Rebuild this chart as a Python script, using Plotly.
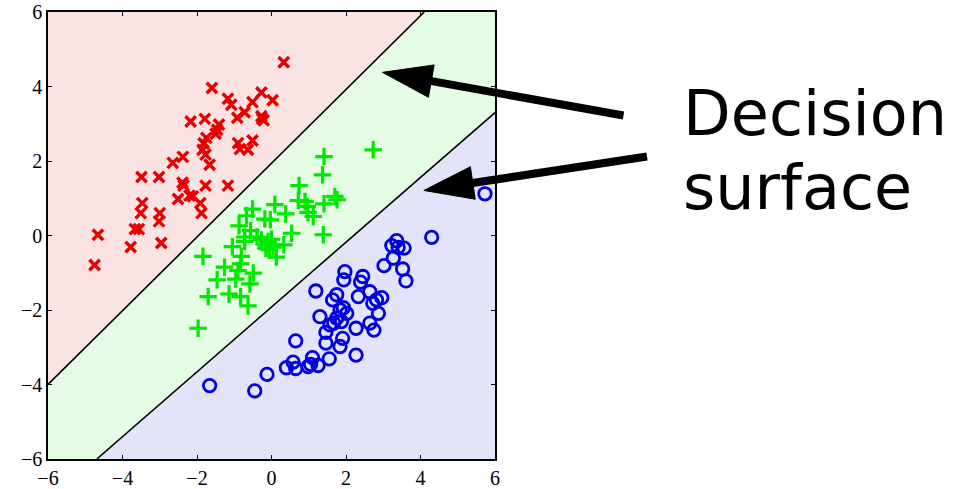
import numpy as np
import plotly.graph_objects as go

# ---- sample points for the three classes ----
red_x = [0.33, -1.60, -1.17, -1.08, -0.27, 0.03, -0.51, -0.72, -0.92, -0.27, -0.21, -0.25,
         -2.17, -1.79, -1.41, -1.46, -1.50, -1.75, -1.82, -1.85, -1.77, -1.66, -0.90, -0.85,
         -0.63, -0.51, -2.38, -2.65, -3.49, -3.02, -2.39, -2.36, -1.77, -1.17, -2.51, -2.20,
         -2.11, -1.91, -1.88, -3.47, -3.51, -3.00, -3.02, -3.67, -3.56, -4.66, -3.78, -2.96,
         -4.75]
red_y = [4.65, 3.96, 3.67, 3.51, 3.84, 3.63, 3.58, 3.31, 3.16, 3.20, 3.09, 3.13,
         3.06, 3.13, 2.98, 2.84, 2.73, 2.62, 2.47, 2.30, 2.17, 1.90, 2.48, 2.32,
         2.30, 2.55, 2.11, 1.95, 1.57, 1.57, 1.42, 1.34, 1.34, 1.34, 0.98, 1.07,
         1.05, 0.87, 0.60, 0.87, 0.60, 0.60, 0.38, 0.17, 0.17, 0.02, -0.31, -0.20,
         -0.79]

green_x = [1.41, 1.37, 0.74, 0.72, 0.90, 0.96, 0.98, 1.12, 1.41, 1.70, 1.76, 1.39,
           0.09, 0.38, -0.18, -0.03, -0.51, -0.67, -0.87, -0.56, -0.39, -0.72, -1.05, -0.27,
           -0.12, -0.06, 0.00, 0.13, 0.33, 0.54, -0.15, -1.84, -0.81, -0.83, -1.26, -0.90,
           -0.49, -1.46, -0.96, -0.58, -1.70, -1.14, -0.83, -0.63, -1.97, -0.09, 0.04, -0.72,
           2.73]
green_y = [2.12, 1.63, 1.34, 0.94, 0.91, 0.78, 0.62, 0.51, 0.85, 1.05, 0.96, 0.02,
           0.83, 0.58, 0.44, 0.42, 0.71, 0.53, 0.26, 0.13, -0.04, -0.16, -0.30, -0.12,
           -0.25, -0.38, -0.10, -0.58, -0.25, 0.06, -0.34, -0.56, -0.56, -0.76, -0.85, -0.94,
           -1.01, -1.19, -1.17, -1.30, -1.64, -1.57, -1.64, -1.89, -2.49, -0.16, -0.31, -0.04,
           2.30]

blue_x = [4.30, 3.36, 3.23, 3.40, 3.56, 3.27, 3.02, 3.52, 3.61, 1.97, 1.94, 2.45,
          2.39, 1.19, 2.64, 2.33, 2.96, 2.82, 2.72, 1.75, 1.64, 1.93, 2.02, 2.87,
          1.30, 1.75, 1.88, 1.67, 2.64, 2.27, 2.75, 1.57, 1.46, 1.91, 0.65, 1.46,
          1.84, 2.27, 1.55, 1.10, 1.05, 1.25, 0.58, 0.40, 0.65, 0.98, -0.12, -1.66,
          -0.45, 5.73, 1.84]
blue_y = [-0.05, -0.14, -0.27, -0.32, -0.34, -0.61, -0.81, -0.90, -1.22, -0.97, -1.19, -1.10,
          -1.25, -1.49, -1.51, -1.64, -1.67, -1.73, -1.82, -1.59, -1.73, -1.94, -2.09, -2.09,
          -2.18, -2.22, -2.31, -2.35, -2.35, -2.49, -2.54, -2.40, -2.60, -2.76, -2.83, -2.89,
          -2.98, -3.21, -3.31, -3.28, -3.46, -3.49, -3.40, -3.55, -3.57, -3.52, -3.73, -4.03,
          -4.17, 1.12, -2.00]

# ---- linear decision boundaries: y = slope * x + intercept ----
upper_slope, upper_icpt = 0.99, 1.94
lower_slope, lower_icpt = 0.87, -1.92

lim = 6.0
tick_vals = [-6, -4, -2, 0, 2, 4, 6]

RED = "rgb(232,0,0)"
GREEN = "rgb(0,232,0)"
BLUE = "rgb(0,0,225)"

# boundary end points clipped to the square [-6, 6] x [-6, 6]
u_x0, u_y0 = -lim, upper_slope * -lim + upper_icpt
u_x1, u_y1 = (lim - upper_icpt) / upper_slope, lim
l_x0, l_y0 = (-lim - lower_icpt) / lower_slope, -lim
l_x1, l_y1 = lim, lower_slope * lim + lower_icpt

fig = go.Figure()

# class regions
regions = [
    ([-lim, u_x1, -lim], [u_y0, lim, lim], "rgb(252,227,227)"),
    ([-lim, l_x0, l_x1, lim, u_x1, -lim], [-lim, -lim, l_y1, lim, lim, u_y0], "rgb(227,252,227)"),
    ([l_x0, lim, lim], [-lim, -lim, l_y1], "rgb(227,227,250)"),
]
for rx, ry, col in regions:
    fig.add_trace(go.Scatter(x=rx, y=ry, fill="toself", fillcolor=col, mode="none",
                             hoverinfo="skip", showlegend=False))

# boundary lines
for bx, by in [([u_x0, u_x1], [u_y0, u_y1]), ([l_x0, l_x1], [l_y0, l_y1])]:
    fig.add_trace(go.Scatter(x=bx, y=by, mode="lines", line=dict(color="black", width=1.6),
                             hoverinfo="skip", showlegend=False))

# data points
fig.add_trace(go.Scatter(x=red_x, y=red_y, mode="markers", showlegend=False,
                         marker=dict(symbol="x-thin", size=10.5, color=RED,
                                     line=dict(color=RED, width=3.4))))
fig.add_trace(go.Scatter(x=green_x, y=green_y, mode="markers", showlegend=False,
                         marker=dict(symbol="cross-thin", size=12.5, color=GREEN,
                                     line=dict(color=GREEN, width=3.2))))
fig.add_trace(go.Scatter(x=blue_x, y=blue_y, mode="markers", showlegend=False,
                         marker=dict(symbol="circle-open", size=12.5, color=BLUE,
                                     line=dict(color=BLUE, width=2.8))))

# ---- pointer arrows (data units, drawn in paper space so they can leave the axes) ----
arrows = [
    ((9.45, 3.22), (2.98, 4.38)),
    ((10.08, 2.12), (4.09, 1.21)),
]


def to_paper(x, y):
    return (x + lim) / (2 * lim), (y + lim) / (2 * lim)


shaft_w = 8
head_len = 1.33
head_half = 0.44
for (tx, ty), (hx, hy) in arrows:
    d = np.array([hx - tx, hy - ty])
    d = d / np.hypot(*d)
    n = np.array([-d[1], d[0]])
    tip = np.array([hx, hy])
    base = tip - d * head_len
    a = base + n * head_half
    b = base - n * head_half
    p0 = to_paper(tx, ty)
    p1 = to_paper(*(base + d * 0.1))
    fig.add_shape(type="line", xref="paper", yref="paper",
                  x0=p0[0], y0=p0[1], x1=p1[0], y1=p1[1],
                  line=dict(color="black", width=shaft_w), layer="above")
    pts = [to_paper(*tip), to_paper(*a), to_paper(*b)]
    path = "M{:.4f},{:.4f} L{:.4f},{:.4f} L{:.4f},{:.4f} Z".format(
        pts[0][0], pts[0][1], pts[1][0], pts[1][1], pts[2][0], pts[2][1])
    fig.add_shape(type="path", xref="paper", yref="paper", path=path,
                  fillcolor="black", line=dict(color="black", width=1), layer="above")

# caption
for txt, py in [("Decision", 0.772), ("surface", 0.608)]:
    fig.add_annotation(text=txt, xref="paper", yref="paper", x=1.415, y=py,
                       xanchor="left", yanchor="middle", showarrow=False,
                       font=dict(family="DejaVu Sans", size=62, color="black"))

axis_style = dict(range=[-lim, lim], tickvals=tick_vals, showgrid=False, zeroline=False,
                  showline=True, linecolor="black", linewidth=1.5, mirror="ticks",
                  ticks="inside", ticklen=4, tickwidth=1, tickcolor="black",
                  automargin=False,
                  tickfont=dict(family="Liberation Serif", size=20, color="black"))

fig.update_xaxes(**axis_style)
fig.update_yaxes(**axis_style)

fig.update_layout(width=969, height=489, margin=dict(l=48, r=474, t=12, b=30),
                  paper_bgcolor="white", plot_bgcolor="white")

fig.write_html("out.html")
